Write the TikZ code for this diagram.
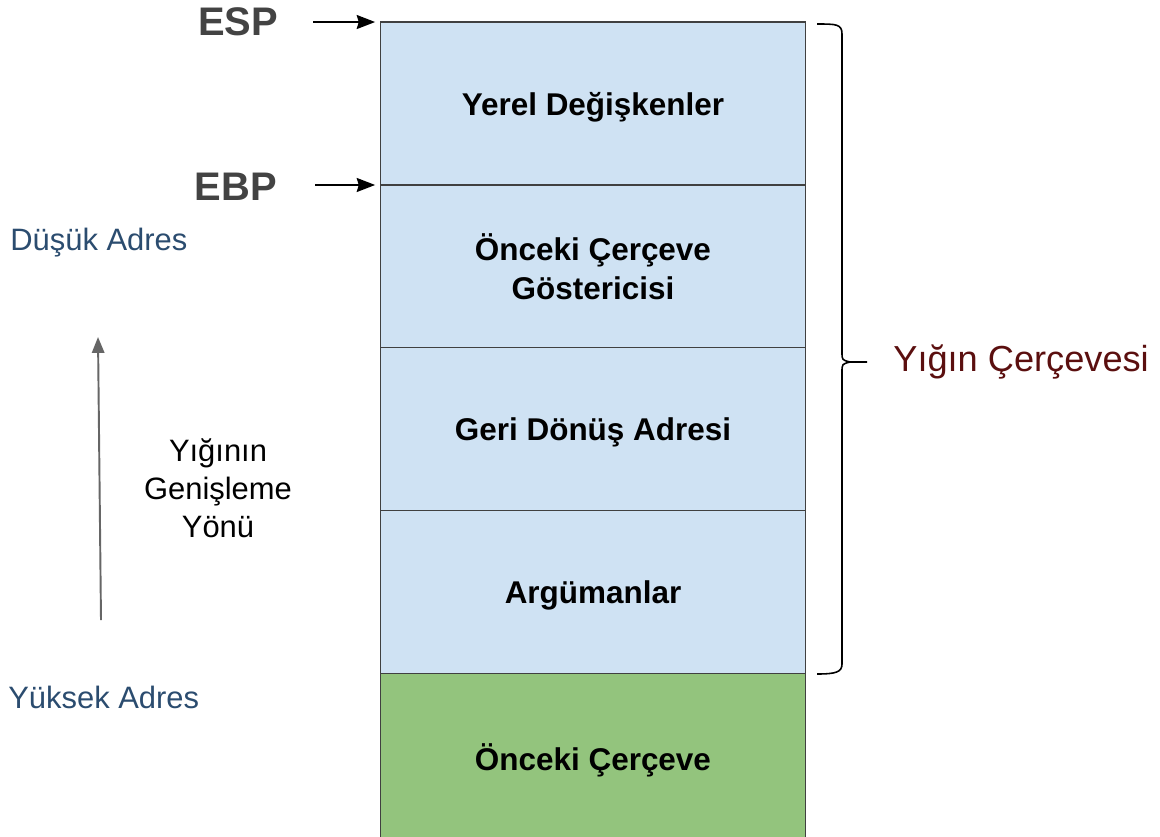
\documentclass[tikz,border=0pt]{standalone}
\usepackage{fontspec}
\setmainfont{Liberation Sans}
\usepackage{xcolor}
\usetikzlibrary{arrows.meta, positioning}

\definecolor{framebg}{HTML}{CFE2F3}
\definecolor{oldbg}{HTML}{93C47D}
\definecolor{addrblue}{HTML}{2B4C6F}
\definecolor{framered}{HTML}{5B0F0F}
\definecolor{regtext}{HTML}{434343}

\begin{document}
\begin{tikzpicture}[
  x=0.02cm, y=-0.02cm,
  node distance=0cm,
  cell/.style={rectangle, draw=black!75, fill=framebg, line width=0.6pt,
               minimum width=8.52cm, minimum height=3.26cm, outer sep=0pt,
               text depth=0pt, align=center,
               font=\fontsize{17.9}{22}\selectfont\bfseries},
  reg/.style={font=\fontsize{22.7}{26}\selectfont\bfseries, text=regtext},
  addr/.style={anchor=west, inner sep=0pt, text=addrblue,
               font=\fontsize{17.6}{21}\selectfont},
  ptr/.style={-{Stealth[length=10.5pt, width=8pt, inset=1.2pt]}, line width=1pt,
              shorten >=2.8pt},
  growarrow/.style={-{Triangle[length=9pt, width=7pt]}, line width=1.1pt,
                    draw=black!55, color=black!60}
]
\useasboundingbox (0,0) rectangle (1160,836);

% Stack cells
\node[cell] (loc) at (593,103.5) {Yerel Değişkenler};
\node[cell, below=of loc] (sfp) {Önceki Çerçeve\\Göstericisi};
\node[cell, below=of sfp] (ret) {Geri Dönüş Adresi};
\node[cell, below=of ret] (arg) {Argümanlar};
\node[cell, below=of arg, fill=oldbg, minimum height=3.32cm] (old) {Önceki Çerçeve};

% Registers
\node[reg] (esp) at (238,22) {ESP};
\node[reg] (ebp) at (236,187) {EBP};
\coordinate (espfrom) at (313,22);
\coordinate (ebpfrom) at (315,185);
\draw[ptr] (espfrom) -- (loc.north west);
\draw[ptr] (ebpfrom) -- (loc.south west);

% Address direction
\node[addr] (low) at (10,243) {Düşük Adres};
\node[addr] (high) at (8,697) {Yüksek Adres};
\coordinate (growfrom) at (101,620);
\coordinate (growto) at (98,337);
\draw[growarrow] (growfrom) -- (growto);
\node[align=center, font=\fontsize{17.6}{21.5}\selectfont] (dir) at (218,488)
      {Yığının\\Genişleme\\Yönü};

% Frame brace
\coordinate (bracetop) at (817,24);
\coordinate (bracetip) at (867,362);
\coordinate (bracebot) at (817,674);
\draw[line width=0.9pt]
  (bracetop) .. controls (836,24) and (842,24) .. (842,34)
  -- (842,352) .. controls (842,360) .. (850,362) -- (bracetip)
  (850,362) .. controls (842,364) .. (842,372)
  -- (842,664) .. controls (842,672) and (836,674) .. (bracebot);
\node[anchor=west, inner sep=0pt, text=framered,
      font=\fontsize{20.6}{24}\selectfont] (frame) at (893,362) {Yığın Çerçevesi};
\end{tikzpicture}
\end{document}
